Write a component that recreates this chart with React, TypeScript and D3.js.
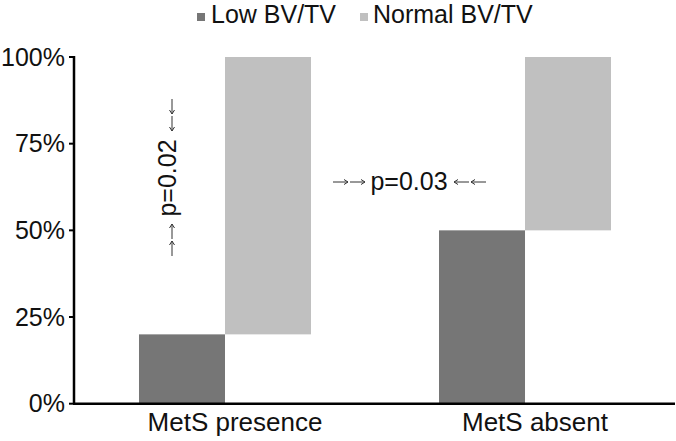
import React from "react";
import * as d3 from "d3";

const categories = ["MetS presence", "MetS absent"];
const seriesNames = ["Low BV/TV", "Normal BV/TV"];
const lowShare = [0.2, 0.5];
const normalShare = [0.8, 0.5];
const yTicks = [0, 0.25, 0.5, 0.75, 1];
const pLabels = ["p=0.02", "p=0.03"];

const W = 676;
const H = 441;
const colors = ["#767676", "#c0c0c0"];
const FONT = "'Liberation Sans', Arial, sans-serif";

function ArrowPair({ x, y, dir, len = 15, gap = 2 }: { x: number; y: number; dir: "right" | "left" | "up" | "down"; len?: number; gap?: number }) {
  const v = dir === "right" ? [1, 0] : dir === "left" ? [-1, 0] : dir === "down" ? [0, 1] : [0, -1];
  const paths: string[] = [];
  for (let i = 0; i < 2; i++) {
    const sx = x + v[0] * i * (len + gap);
    const sy = y + v[1] * i * (len + gap);
    const ex = sx + v[0] * len;
    const ey = sy + v[1] * len;
    const px = -v[1];
    const py = v[0];
    const bx = ex - v[0] * 4;
    const by = ey - v[1] * 4;
    paths.push(`M${sx},${sy}L${ex},${ey}M${bx + px * 2.5},${by + py * 2.5}L${ex},${ey}L${bx - px * 2.5},${by - py * 2.5}`);
  }
  return <path d={paths.join("")} stroke="#333" strokeWidth={1} fill="none" />;
}

export default function App() {
  const x0 = d3.scaleBand<string>().domain(categories).range([75, 675]).paddingInner(0.4267).paddingOuter(0.2133);
  const x1 = d3.scaleBand<string>().domain(seriesNames).range([0, x0.bandwidth()]);
  const y = d3.scaleLinear().domain([0, 1]).range([403.7, 57]);
  const fmt = d3.format(".0%");

  const stacks = categories.map((c, i) => [
    { s: seriesNames[0], y0: 0, y1: lowShare[i] },
    { s: seriesNames[1], y0: lowShare[i], y1: lowShare[i] + normalShare[i] },
  ]);

  return (
    <svg width={W} height={H} style={{ position: "absolute", left: 0, top: 0, background: "#fff" }} fontFamily={FONT}>
      <g>
        <rect x={197} y={13} width={8} height={8} fill={colors[0]} />
        <text x={211} y={22.5} fontSize={25} fill="#111">{seriesNames[0]}</text>
        <rect x={360} y={13} width={8} height={8} fill={colors[1]} />
        <text x={373} y={22.5} fontSize={25} fill="#111">{seriesNames[1]}</text>
      </g>
      {categories.map((c, i) => (
        <g key={c}>
          {stacks[i].map((d, j) => (
            <rect
              key={d.s}
              x={(x0(c) as number) + (x1(d.s) as number)}
              y={y(d.y1)}
              width={x1.bandwidth()}
              height={y(d.y0) - y(d.y1)}
              fill={colors[j]}
            />
          ))}
        </g>
      ))}
      <line x1={74} x2={74} y1={y(1) - 1} y2={y(0)} stroke="#000" strokeWidth={2.5} />
      <line x1={73} x2={675} y1={y(0)} y2={y(0)} stroke="#000" strokeWidth={2.5} />
      {yTicks.map((t) => (
        <g key={t}>
          <line x1={69} x2={74} y1={y(t)} y2={y(t)} stroke="#000" strokeWidth={2} />
          <text x={65} y={y(t) + 8.5} fontSize={25} textAnchor="end" fill="#111">{fmt(t)}</text>
        </g>
      ))}
      {categories.map((c) => (
        <text key={c} x={(x0(c) as number) + x0.bandwidth() / 2 + 10} y={431} fontSize={26} textAnchor="middle" fill="#111">
          {c}
        </text>
      ))}
      <g>
        <ArrowPair x={172} y={99} dir="down" len={15} gap={2} />
        <text transform="translate(176,178) rotate(-90)" fontSize={25} textAnchor="middle" fill="#111">{pLabels[0]}</text>
        <ArrowPair x={172} y={256} dir="up" len={15} gap={2} />
      </g>
      <g>
        <ArrowPair x={333} y={182} dir="right" len={15} gap={2} />
        <text x={409} y={190} fontSize={25} textAnchor="middle" fill="#111">{pLabels[1]}</text>
        <ArrowPair x={486} y={182} dir="left" len={15} gap={2} />
      </g>
    </svg>
  );
}
